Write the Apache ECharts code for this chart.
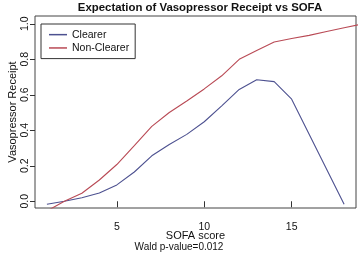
<!DOCTYPE html>
<html>
<head>
<meta charset="utf-8">
<script src="https://cdn.jsdelivr.net/npm/echarts@6/dist/echarts.min.js"></script>
<style>
  html, body { margin: 0; padding: 0; background: #fff; }
  #chart { width: 358px; height: 255px; }
</style>
</head>
<body>
<div id="chart"></div>
<script>
// SOFA score vs expected vasopressor receipt
var clearerX = [1, 2, 3, 4, 5, 6, 7, 8, 9, 10, 11, 12, 13, 14, 15, 18];
var clearerY = [-0.017, 0.0, 0.02, 0.047, 0.092, 0.165, 0.256, 0.32, 0.377, 0.448, 0.538, 0.63, 0.685, 0.674, 0.575, -0.017];

var nonClearerX = [1, 2, 3, 4, 5, 6, 7, 8, 9, 10, 11, 12, 13, 14, 15, 16, 17, 18, 19];
var nonClearerY = [-0.055, 0.0, 0.045, 0.12, 0.207, 0.313, 0.422, 0.5, 0.565, 0.633, 0.707, 0.8, 0.85, 0.897, 0.917, 0.935, 0.957, 0.978, 0.998];

var xTicks = [5, 10, 15];
var yTicks = [0, 0.2, 0.4, 0.6, 0.8, 1.0];

function pairs(xs, ys) {
	var out = [];
	for (var i = 0; i < xs.length; i++) out.push([xs[i], ys[i]]);
	return out;
}

var font = '"Liberation Sans", Arial, sans-serif';
var chart = echarts.init(document.getElementById('chart'));

chart.setOption({
	animation: false,
	backgroundColor: '#fff',
	title: {
		text: 'Expectation of Vasopressor Receipt vs SOFA',
		left: 195, top: -3, textAlign: 'center',
		textStyle: { fontFamily: font, fontSize: 11.4, fontWeight: 'bold', color: '#111' }
	},
	grid: {
		left: 35, right: 2, top: 16, bottom: 47,
		containLabel: false, outerBoundsMode: 'none',
		show: true, borderColor: '#444', borderWidth: 1, backgroundColor: '#fff'
	},
	legend: {
		orient: 'vertical',
		left: 41, top: 24,
		padding: [4, 6, 4, 8],
		itemGap: 0,
		itemWidth: 18, itemHeight: 1.5,
		itemTextGap: 7,
		icon: 'rect',
		borderColor: '#333', borderWidth: 1,
		textStyle: { fontFamily: font, fontSize: 10.5, lineHeight: 13.3, color: '#111' },
		data: ['Clearer', 'Non-Clearer']
	},
	xAxis: {
		type: 'value', min: 0.32, max: 18.68,
		name: 'SOFA score', nameLocation: 'middle', nameGap: 22, nameMoveOverlap: false,
		nameTextStyle: { fontFamily: font, fontSize: 11, color: '#111' },
		axisLine: { show: false },
		splitLine: { show: false },
		axisTick: { show: true, customValues: xTicks, length: 6, lineStyle: { color: '#333' } },
		axisLabel: { customValues: xTicks, margin: 14, fontFamily: font, fontSize: 10.5, color: '#111' }
	},
	yAxis: {
		type: 'value', min: -0.038, max: 1.044,
		name: 'Vasopressor Receipt', nameLocation: 'middle', nameGap: 17, nameRotate: 90, nameMoveOverlap: false,
		nameTextStyle: { fontFamily: font, fontSize: 11, color: '#111' },
		axisLine: { show: false },
		splitLine: { show: false },
		axisTick: { show: true, customValues: yTicks, length: 5, lineStyle: { color: '#333' } },
		axisLabel: {
			customValues: yTicks, rotate: 90, margin: 4,
			fontFamily: font, fontSize: 10.5, color: '#111',
			formatter: function (v) { return v.toFixed(1); }
		}
	},
	graphic: [{
		type: 'text', left: 'center', top: 242,
		style: { text: 'Wald p-value=0.012', fontFamily: font, fontSize: 10, fill: '#111' }
	}],
	series: [{
		name: 'Clearer', type: 'line', symbol: 'none', clip: true,
		lineStyle: { color: '#4d5190', width: 1.1 },
		itemStyle: { color: '#4d5190' },
		data: pairs(clearerX, clearerY)
	}, {
		name: 'Non-Clearer', type: 'line', symbol: 'none', clip: true,
		lineStyle: { color: '#b94a55', width: 1.1 },
		itemStyle: { color: '#b94a55' },
		data: pairs(nonClearerX, nonClearerY)
	}]
});
</script>
</body>
</html>
